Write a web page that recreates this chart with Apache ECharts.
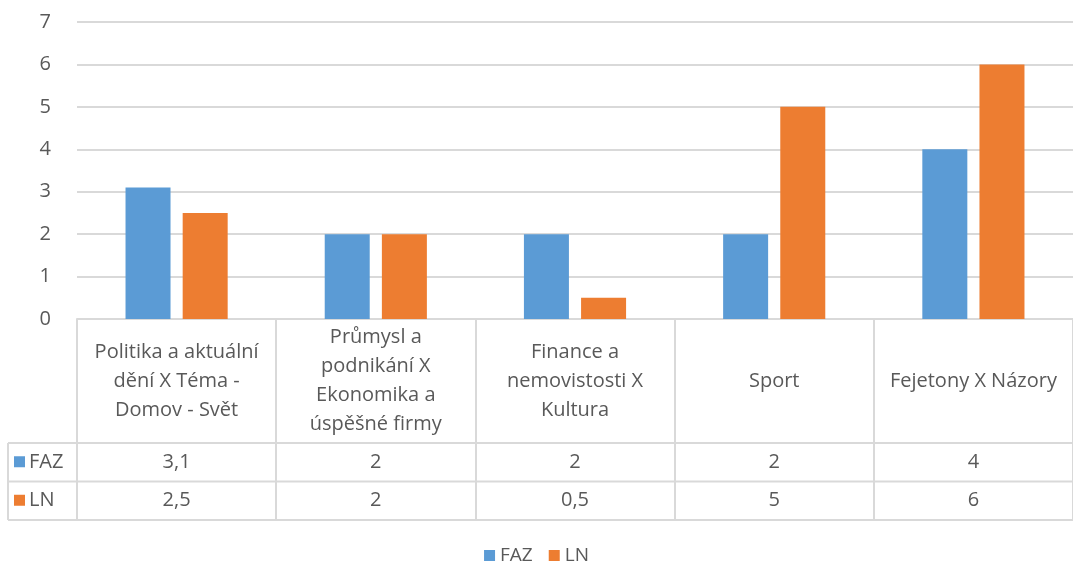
<!DOCTYPE html>
<html>
<head>
<meta charset="utf-8">
<script src="https://cdn.jsdelivr.net/npm/echarts@6/dist/echarts.min.js"></script>
<style>
  html, body { margin: 0; padding: 0; background: #fff; }
  #chart { width: 1073px; height: 565px; }
</style>
</head>
<body>
<div id="chart"></div>
<script>
// kategorie (s zalomením jako v tabulce)
var categories = [
    'Politika a aktuální\ndění X Téma -\nDomov - Svět',
    'Průmysl a\npodnikání X\nEkonomika a\núspěšné firmy',
    'Finance a\nnemovistosti X\nKultura',
    'Sport',
    'Fejetony X Názory'
];
var seriesNames = ['FAZ', 'LN'];
var faz = [3.1, 2, 2, 2, 4];
var ln = [2.5, 2, 0.5, 5, 6];
var yTicks = [0, 1, 2, 3, 4, 5, 6, 7];

var colors = ['#5b9bd5', '#ed7d31'];
var textColor = '#595959';
var lineColor = '#d9d9d9';
var font = 'Open Sans';
var fs = 20;

// rozvržení tabulky
var gridLeft = 77, gridTop = 22, gridW = 1006, gridH = 297;
var axisY = gridTop + gridH;        // 319
var headH = 124, rowH = 38.5;
var row1 = axisY + headH;           // 443
var row2 = row1 + rowH;             // 481.5
var row3 = row2 + rowH;             // 520
var tableLeft = 8;

function fmt(v) {
    return String(v).replace('.', ',');
}

var myChart = echarts.init(document.getElementById('chart'));

function rowAxis(vals, margin) {
    return {
        type: 'category',
        data: categories,
        position: 'bottom',
        axisLine: { show: false },
        axisTick: { show: false },
        axisLabel: {
            interval: 0,
            margin: margin,
            verticalAlign: 'middle',
            color: textColor,
            fontFamily: font,
            fontSize: fs,
            formatter: function (v, i) { return fmt(vals[i]); }
        }
    };
}

function hLine(y, x1) {
    return {
        type: 'line',
        shape: { x1: x1, y1: y, x2: gridLeft + gridW, y2: y },
        style: { stroke: lineColor, lineWidth: 2 },
        silent: true
    };
}

function rowHead(name, color, yTop) {
    return {
        type: 'group',
        children: [
            { type: 'rect', shape: { x: 14, y: yTop + rowH / 2 - 6, width: 11, height: 11 }, style: { fill: color } },
            { type: 'text', x: 29, y: yTop + rowH / 2, style: { text: name, fill: textColor, font: fs + 'px "' + font + '"', verticalAlign: 'middle' } }
        ]
    };
}

var option = {
    animation: false,
    color: colors,
    grid: { left: gridLeft, top: gridTop, width: gridW, height: gridH },
    legend: {
        top: 541,
        left: 'center',
        itemWidth: 11,
        itemHeight: 11,
        itemGap: 16,
        icon: 'rect',
        textStyle: { color: textColor, fontFamily: font, fontSize: 19 },
        data: seriesNames
    },
    xAxis: [
        {
            type: 'category',
            data: categories,
            axisLine: { lineStyle: { color: lineColor, width: 2 } },
            axisTick: { show: true, interval: 0, length: row3 - axisY, lineStyle: { color: lineColor, width: 2 } },
            axisLabel: {
                interval: 0,
                margin: headH / 2,
                verticalAlign: 'middle',
                lineHeight: 29,
                color: textColor,
                fontFamily: font,
                fontSize: fs
            }
        },
        rowAxis(faz, headH + rowH / 2),
        rowAxis(ln, headH + rowH * 1.5)
    ],
    yAxis: {
        type: 'value',
        min: yTicks[0],
        max: yTicks[yTicks.length - 1],
        interval: 1,
        axisLine: { show: false },
        axisTick: { show: false },
        axisLabel: { color: textColor, fontFamily: font, fontSize: 20, margin: 26 },
        splitLine: { lineStyle: { color: lineColor, width: 2 } }
    },
    graphic: [
        hLine(row1, tableLeft),
        hLine(row2, tableLeft),
        hLine(row3, tableLeft),
        {
            type: 'line',
            shape: { x1: tableLeft, y1: row1, x2: tableLeft, y2: row3 },
            style: { stroke: lineColor, lineWidth: 2 },
            silent: true
        },
        rowHead(seriesNames[0], colors[0], row1),
        rowHead(seriesNames[1], colors[1], row2)
    ],
    series: [
        { name: seriesNames[0], type: 'bar', data: faz, barWidth: 45, barGap: '27%' },
        { name: seriesNames[1], type: 'bar', data: ln, barWidth: 45, barGap: '27%' }
    ]
};
myChart.setOption(option);
</script>
</body>
</html>
